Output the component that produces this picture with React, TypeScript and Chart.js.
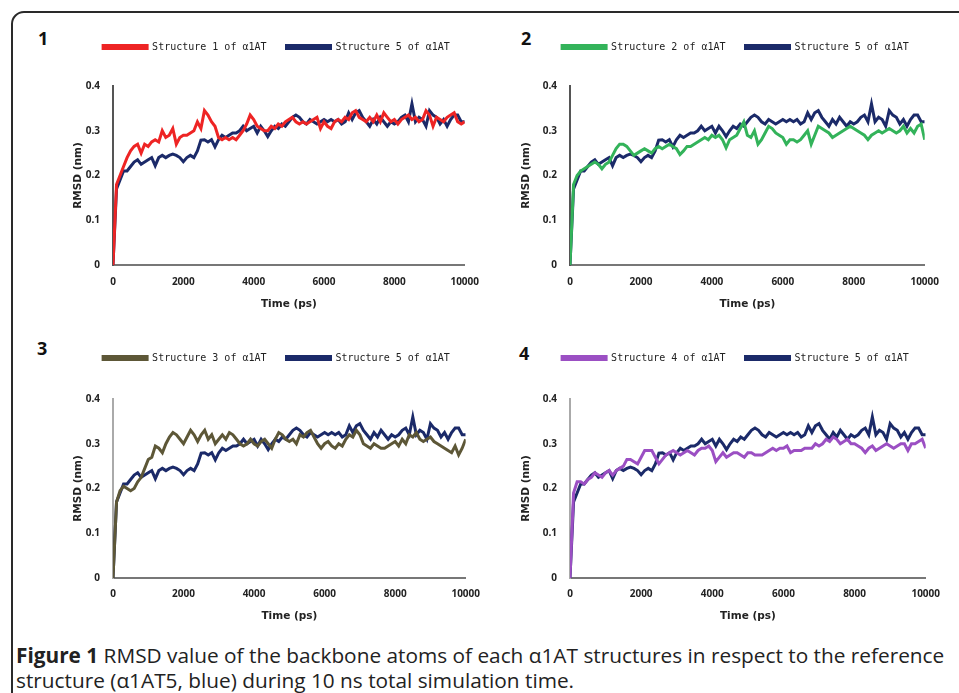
import React, { useEffect, useRef } from "react";
import { Chart, registerables } from "chart.js";

Chart.register(...registerables);

// ---- data ----
const timePs: number[] = Array.from({ length: 101 }, (_, i) => i * 100);
const xTickLabels = ["0", "2000", "4000", "6000", "8000", "10000"];
const yTickLabels = ["0", "0.1", "0.2", "0.3", "0.4"];

const structure5 = [
  0, 0.17, 0.19, 0.21, 0.21, 0.22, 0.23, 0.235, 0.225, 0.23,
  0.235, 0.24, 0.222, 0.24, 0.245, 0.24, 0.245, 0.248, 0.245, 0.24,
  0.231, 0.24, 0.245, 0.24, 0.255, 0.279, 0.28, 0.275, 0.28, 0.264,
  0.28, 0.29, 0.285, 0.29, 0.295, 0.295, 0.3, 0.31, 0.3, 0.305,
  0.31, 0.295, 0.31, 0.3, 0.287, 0.3, 0.31, 0.305, 0.315, 0.31,
  0.32, 0.33, 0.335, 0.33, 0.32, 0.315, 0.325, 0.32, 0.315, 0.32,
  0.325, 0.32, 0.325, 0.32, 0.325, 0.315, 0.32, 0.34, 0.325, 0.34,
  0.345, 0.33, 0.32, 0.31, 0.325, 0.315, 0.33, 0.32, 0.31, 0.32,
  0.315, 0.32, 0.33, 0.335, 0.32, 0.36, 0.32, 0.33, 0.325, 0.31,
  0.345, 0.335, 0.33, 0.315, 0.325, 0.31, 0.325, 0.335, 0.335, 0.32,
  0.32,
];

const structure1 = [
  0, 0.18, 0.2, 0.22, 0.24, 0.255, 0.265, 0.27, 0.25, 0.27,
  0.265, 0.275, 0.28, 0.275, 0.3, 0.285, 0.29, 0.305, 0.27, 0.285,
  0.29, 0.29, 0.295, 0.3, 0.32, 0.305, 0.345, 0.335, 0.32, 0.31,
  0.285, 0.28, 0.285, 0.28, 0.285, 0.28, 0.29, 0.3, 0.315, 0.335,
  0.325, 0.31, 0.305, 0.3, 0.3, 0.31, 0.305, 0.315, 0.31, 0.32,
  0.325, 0.33, 0.32, 0.315, 0.32, 0.315, 0.32, 0.325, 0.33, 0.305,
  0.32, 0.31, 0.305, 0.32, 0.325, 0.32, 0.33, 0.325, 0.34, 0.345,
  0.33, 0.325, 0.32, 0.33, 0.32, 0.335, 0.32, 0.34, 0.33, 0.32,
  0.325, 0.315, 0.325, 0.33, 0.335, 0.325, 0.33, 0.32, 0.325, 0.345,
  0.335, 0.31, 0.33, 0.325, 0.32, 0.33, 0.335, 0.34, 0.32, 0.315,
  0.32,
];

const structure2 = [
  0, 0.18, 0.2, 0.21, 0.215, 0.22, 0.225, 0.23, 0.225, 0.215,
  0.225, 0.23, 0.245, 0.26, 0.27, 0.27, 0.265, 0.255, 0.245, 0.25,
  0.255, 0.26, 0.255, 0.25, 0.26, 0.265, 0.26, 0.265, 0.27, 0.265,
  0.26, 0.247, 0.255, 0.265, 0.265, 0.27, 0.275, 0.28, 0.285, 0.28,
  0.29, 0.285, 0.29, 0.28, 0.262, 0.28, 0.285, 0.29, 0.305, 0.32,
  0.29, 0.285, 0.3, 0.27, 0.28, 0.295, 0.31, 0.305, 0.295, 0.29,
  0.285, 0.27, 0.28, 0.28, 0.275, 0.28, 0.29, 0.3, 0.27, 0.29,
  0.31, 0.305, 0.3, 0.295, 0.285, 0.29, 0.295, 0.3, 0.305, 0.31,
  0.305, 0.3, 0.295, 0.29, 0.28, 0.29, 0.295, 0.3, 0.295, 0.3,
  0.305, 0.3, 0.295, 0.3, 0.31, 0.295, 0.305, 0.295, 0.31, 0.315,
  0.28,
];

const structure3 = [
  0, 0.17, 0.195, 0.205, 0.2, 0.195, 0.2, 0.215, 0.225, 0.245,
  0.265, 0.27, 0.295, 0.29, 0.28, 0.3, 0.315, 0.325, 0.32, 0.31,
  0.3, 0.315, 0.33, 0.32, 0.305, 0.32, 0.33, 0.31, 0.32, 0.3,
  0.31, 0.32, 0.31, 0.325, 0.32, 0.31, 0.3, 0.295, 0.3, 0.31,
  0.3, 0.295, 0.305, 0.31, 0.3, 0.29, 0.31, 0.325, 0.32, 0.31,
  0.305, 0.31, 0.3, 0.32, 0.315, 0.325, 0.33, 0.315, 0.3, 0.29,
  0.3, 0.305, 0.295, 0.29, 0.3, 0.295, 0.31, 0.32, 0.315, 0.33,
  0.32, 0.3, 0.295, 0.29, 0.3, 0.295, 0.29, 0.29, 0.295, 0.3,
  0.305, 0.295, 0.31, 0.3, 0.32, 0.315, 0.325, 0.31, 0.305, 0.31,
  0.315, 0.305, 0.3, 0.295, 0.29, 0.285, 0.28, 0.295, 0.275, 0.29,
  0.31,
];

const structure4 = [
  0, 0.19, 0.215, 0.215, 0.21, 0.22, 0.225, 0.235, 0.23, 0.225,
  0.235, 0.24, 0.23, 0.24, 0.245, 0.25, 0.265, 0.265, 0.26, 0.255,
  0.27, 0.285, 0.285, 0.285, 0.27, 0.255, 0.265, 0.275, 0.28, 0.285,
  0.28, 0.275, 0.28, 0.285, 0.28, 0.275, 0.285, 0.29, 0.29, 0.295,
  0.285, 0.26, 0.27, 0.28, 0.27, 0.275, 0.28, 0.28, 0.275, 0.27,
  0.28, 0.28, 0.275, 0.275, 0.275, 0.28, 0.285, 0.29, 0.285, 0.29,
  0.29, 0.295, 0.28, 0.285, 0.285, 0.285, 0.29, 0.29, 0.29, 0.3,
  0.295, 0.3, 0.31, 0.305, 0.315, 0.31, 0.3, 0.305, 0.31, 0.3,
  0.3, 0.295, 0.29, 0.28, 0.29, 0.295, 0.285, 0.29, 0.295, 0.3,
  0.295, 0.29, 0.295, 0.3, 0.3, 0.285, 0.3, 0.3, 0.305, 0.31,
  0.29,
];

const seriesLabels = [
  "Structure 1 of α1AT",
  "Structure 2 of α1AT",
  "Structure 3 of α1AT",
  "Structure 4 of α1AT",
  "Structure 5 of α1AT",
];
const panelNumbers = ["1", "2", "3", "4"];
const xTitle = "Time (ps)";
const yTitle = "RMSD (nm)";

const NAVY = "#1b2a69";

type PanelCfg = {
  num: string;
  numX: number;
  numY: number;
  left: number;
  top: number;
  width: number;
  height: number;
  padL: number;
  padR: number;
  padB: number;
  extra: number;
  ysw: number;
  xsh: number;
  xPad: number;
  yTitlePad: number;
  yBorder: string;
  label: string;
  values: number[];
  color: string;
};

const panels: PanelCfg[] = [
  {
    num: panelNumbers[0], numX: 44, numY: 38,
    left: 20, top: 22, width: 470, height: 300,
    padL: 60, padR: 17, padB: 11, extra: 24, ysw: 33, xsh: 46, xPad: 11, yTitlePad: -8,
    yBorder: "#555", label: seriesLabels[0], values: structure1, color: "#ee2424",
  },
  {
    num: panelNumbers[1], numX: 527, numY: 38,
    left: 500, top: 22, width: 450, height: 300,
    padL: 41, padR: 20, padB: 11, extra: 24, ysw: 29, xsh: 46, xPad: 11, yTitlePad: -21,
    yBorder: "#555", label: seriesLabels[1], values: structure2, color: "#33b35a",
  },
  {
    num: panelNumbers[2], numX: 43, numY: 348,
    left: 20, top: 333, width: 470, height: 300,
    padL: 60, padR: 17, padB: 10, extra: 26, ysw: 33, xsh: 45, xPad: 10, yTitlePad: -8,
    yBorder: "#aaa", label: seriesLabels[2], values: structure3, color: "#5d5737",
  },
  {
    num: panelNumbers[3], numX: 525, numY: 353,
    left: 500, top: 333, width: 450, height: 300,
    padL: 41, padR: 20, padB: 10, extra: 26, ysw: 29, xsh: 45, xPad: 10, yTitlePad: -21,
    yBorder: "#aaa", label: seriesLabels[3], values: structure4, color: "#9b4fc3",
  },
];

function legendSpacer(extra: number) {
  return {
    id: "legendSpacer",
    beforeInit(chart: any) {
      const lg = chart.legend;
      if (!lg) return;
      const orig = lg.fit;
      lg.fit = function () {
        orig.call(this);
        this.height += extra;
      };
    },
  };
}

function Panel({ cfg }: { cfg: PanelCfg }) {
  const ref = useRef<HTMLCanvasElement | null>(null);
  useEffect(() => {
    if (!ref.current) return;
    const tickFont = { family: "'Open Sans', sans-serif", size: 10, weight: "bold" as const };
    const titleFont = { family: "'DejaVu Sans', sans-serif", size: 10.5, weight: "bold" as const };
    const chart = new Chart(ref.current, {
      type: "line",
      data: {
        datasets: [
          {
            label: cfg.label,
            data: timePs.map((t, i) => ({ x: t, y: cfg.values[i] })),
            borderColor: cfg.color,
            backgroundColor: cfg.color,
            borderWidth: 3,
            pointRadius: 0,
            tension: 0,
          },
          {
            label: seriesLabels[4],
            data: timePs.map((t, i) => ({ x: t, y: structure5[i] })),
            borderColor: NAVY,
            backgroundColor: NAVY,
            borderWidth: 3,
            pointRadius: 0,
            tension: 0,
          },
        ],
      },
      options: {
        animation: false,
        responsive: false,
        devicePixelRatio: 1,
        layout: { padding: { top: 0, left: cfg.padL, right: cfg.padR, bottom: cfg.padB } },
        plugins: {
          tooltip: { enabled: false },
          legend: {
            display: true,
            position: "top",
            labels: {
              boxWidth: 44,
              boxHeight: 3,
              padding: 20,
              color: "#222",
              font: { family: "'DejaVu Sans Mono', monospace", size: 10 },
            },
          },
        },
        scales: {
          x: {
            type: "linear",
            min: 0,
            max: 10000,
            grid: { display: false, drawTicks: false },
            border: { display: true, color: "#777", width: 2 },
            ticks: {
              stepSize: 2000,
              autoSkip: false,
              maxRotation: 0,
              padding: cfg.xPad,
              color: "#222",
              font: tickFont,
              callback: (_v: any, i: number) => xTickLabels[i],
            },
            title: { display: true, text: xTitle, color: "#222", font: titleFont, padding: 0 },
            afterFit: (s: any) => {
              s.height = cfg.xsh;
            },
          },
          y: {
            type: "linear",
            min: 0,
            max: 0.4,
            grid: { display: false, drawTicks: false },
            border: { display: true, color: cfg.yBorder, width: 2 },
            ticks: {
              stepSize: 0.1,
              autoSkip: false,
              padding: 13,
              color: "#222",
              font: tickFont,
              callback: (_v: any, i: number) => yTickLabels[i],
            },
            title: {
              display: true,
              text: yTitle,
              color: "#222",
              font: titleFont,
              padding: { top: cfg.yTitlePad, bottom: 0 },
            },
            afterFit: (s: any) => {
              s.width = cfg.ysw;
            },
          },
        },
      },
      plugins: [legendSpacer(cfg.extra)],
    } as any);
    return () => chart.destroy();
  }, [cfg]);
  return (
    <>
      <div
        style={{
          position: "absolute",
          left: cfg.numX - 6,
          top: cfg.numY - 13,
          fontFamily: "'Open Sans', sans-serif",
          fontWeight: 700,
          fontSize: 18,
          lineHeight: "26px",
          color: "#111",
        }}
      >
        {cfg.num}
      </div>
      <canvas
        ref={ref}
        width={cfg.width}
        height={cfg.height}
        style={{ position: "absolute", left: cfg.left, top: cfg.top, width: cfg.width, height: cfg.height }}
      />
    </>
  );
}

export default function App() {
  return (
    <div
      style={{
        position: "fixed",
        left: 0,
        top: 0,
        width: 959,
        height: 693,
        overflow: "hidden",
        background: "#fff",
      }}
    >
      <div
        style={{
          position: "absolute",
          left: 11,
          top: 11,
          width: 1000,
          height: 1000,
          border: "2px solid #2a2a2a",
          borderRadius: 13,
        }}
      />
      {panels.map((p) => (
        <Panel key={p.num} cfg={p} />
      ))}
      <div
        style={{
          position: "absolute",
          left: 16,
          top: 643,
          fontFamily: "'Open Sans', sans-serif",
          fontSize: 20.8,
          lineHeight: "25px",
          color: "#222",
          whiteSpace: "nowrap",
        }}
      >
        <b>Figure 1</b> RMSD value of the backbone atoms of each α1AT structures in respect to the reference
        <br />
        structure (α1AT5, blue) during 10 ns total simulation time.
      </div>
    </div>
  );
}
